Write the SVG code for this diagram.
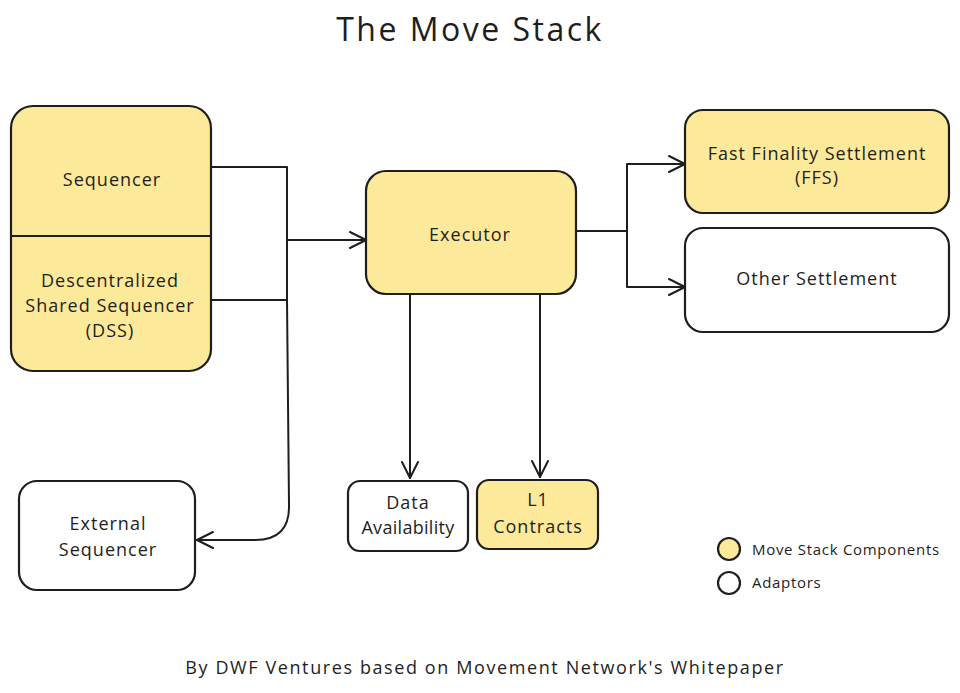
<svg xmlns="http://www.w3.org/2000/svg" width="960" height="693" viewBox="0 0 960 693">
<defs>
<style>
.box{stroke:#1e1e1e;stroke-width:2.2;}
.y{fill:#fde99a;}
.w{fill:#ffffff;}
.t{font-family:"Open Sans","Liberation Sans",sans-serif;font-size:18px;fill:#1e1e1e;text-anchor:middle;letter-spacing:1px;}
.c{fill:none;stroke:#1e1e1e;stroke-width:2;stroke-linecap:round;stroke-linejoin:round;}
.lg{font-family:"Open Sans","Liberation Sans",sans-serif;font-size:15px;fill:#1e1e1e;letter-spacing:0.7px;}
</style>
<marker id="ah" viewBox="0 0 20 20" refX="18" refY="10" markerWidth="20" markerHeight="20" markerUnits="userSpaceOnUse" orient="auto">
<path d="M2,2 L18,10 L2,18" fill="none" stroke="#1e1e1e" stroke-width="2" stroke-linecap="round" stroke-linejoin="round"/>
</marker>
</defs>
<rect width="960" height="693" fill="#ffffff"/>
<text x="470" y="41" style="font-family:'Open Sans','Liberation Sans',sans-serif;font-size:32px;font-weight:500;fill:#1e1e1e;text-anchor:middle;letter-spacing:2.5px;">The Move Stack</text>

<g id="connectors">
<path class="c" d="M211,167 L287,167 L287,300"/>
<path class="c" d="M211,300 L287,300"/>
<path class="c" d="M287,240 L366,240" marker-end="url(#ah)"/>
<path class="c" d="M287,300 L289,505 Q290,540 255,540 L197,540" marker-end="url(#ah)"/>
<path class="c" d="M576,231 L627,231 L627,164 L685,164" marker-end="url(#ah)"/>
<path class="c" d="M627,231 L627,287 L685,287" marker-end="url(#ah)"/>
<path class="c" d="M410,294 L410,478" marker-end="url(#ah)"/>
<path class="c" d="M540,294 L540,477" marker-end="url(#ah)"/>
</g>

<g id="sequencer-stack">
<rect class="box y" x="11" y="106" width="200" height="265" rx="22"/>
<line x1="11" y1="236" x2="211" y2="236" stroke="#1e1e1e" stroke-width="2.2"/>
</g>
<g id="sequencer">
<text class="t" x="112" y="186">Sequencer</text>
</g>
<g id="dss">
<text class="t" x="110" y="287">Descentralized</text>
<text class="t" x="110" y="312">Shared Sequencer</text>
<text class="t" x="110" y="337">(DSS)</text>
</g>

<g id="executor">
<rect class="box y" x="366" y="171" width="210" height="123" rx="20"/>
<text class="t" x="470" y="241">Executor</text>
</g>

<g id="ffs">
<rect class="box y" x="685" y="110" width="264" height="103" rx="18"/>
<text class="t" x="817" y="160">Fast Finality Settlement</text>
<text class="t" x="817" y="184">(FFS)</text>
</g>

<g id="other-settlement">
<rect class="box w" x="685" y="228" width="264" height="104" rx="18"/>
<text class="t" x="817" y="285">Other Settlement</text>
</g>

<g id="data-availability">
<rect class="box w" x="348" y="481" width="120" height="70" rx="12"/>
<text class="t" x="408" y="509">Data</text>
<text class="t" x="408" y="534" style="letter-spacing:0.3px">Availability</text>
</g>

<g id="l1-contracts">
<rect class="box y" x="477" y="480" width="121" height="69" rx="12"/>
<text class="t" x="538" y="506">L1</text>
<text class="t" x="538" y="533">Contracts</text>
</g>

<g id="external-sequencer">
<rect class="box w" x="19" y="481" width="176" height="109" rx="18"/>
<text class="t" x="108" y="530">External</text>
<text class="t" x="108" y="556">Sequencer</text>
</g>

<g id="legend">
<circle class="box y" cx="729" cy="549" r="11"/>
<circle class="box w" cx="729" cy="583" r="11"/>
<text class="lg" x="752" y="555">Move Stack Components</text>
<text class="lg" x="752" y="588">Adaptors</text>
</g>

<text x="485" y="674" style="font-family:'Open Sans','Liberation Sans',sans-serif;font-size:18px;fill:#1e1e1e;text-anchor:middle;letter-spacing:1.6px;">By DWF Ventures based on Movement Network's Whitepaper</text>
</svg>
